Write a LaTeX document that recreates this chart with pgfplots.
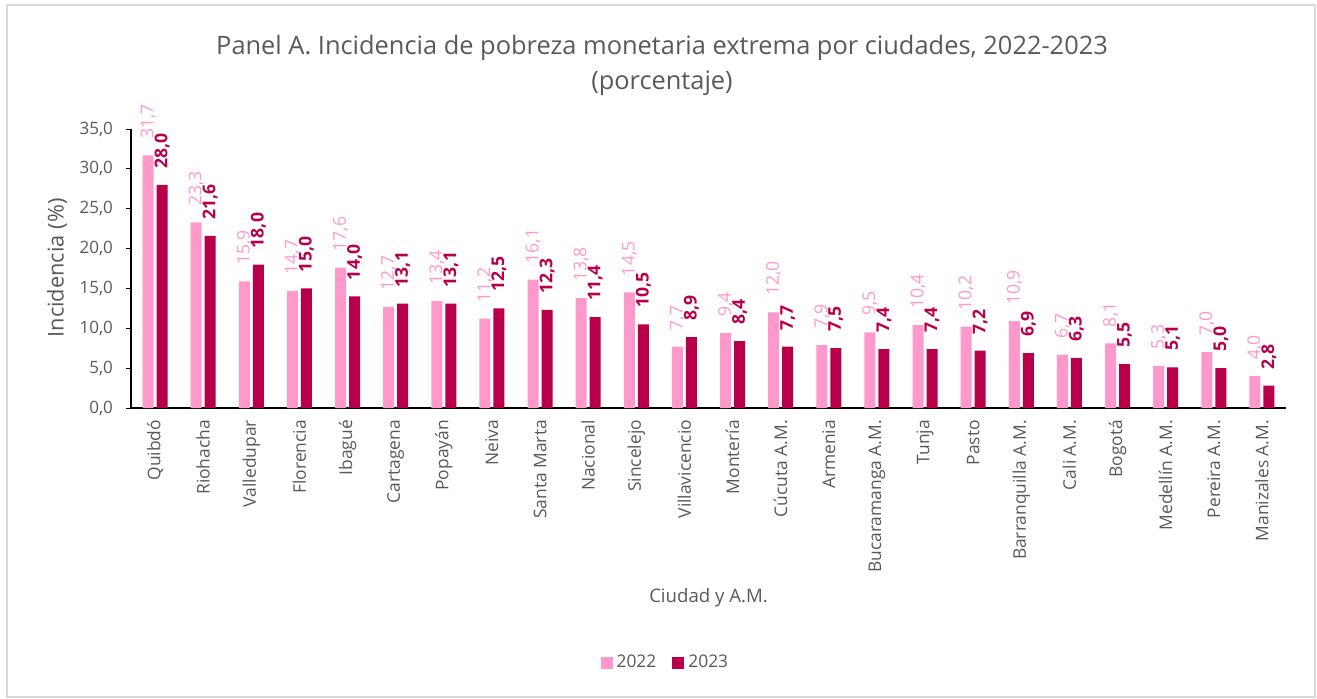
\documentclass[border=0pt]{standalone}
\usepackage{pgfplots}
\pgfplotsset{compat=1.18}
\usepackage{fontspec}
\setmainfont{Open Sans}
\definecolor{c22}{HTML}{FF99CC}
\definecolor{c23}{HTML}{B8004A}
\definecolor{txt}{HTML}{595959}
\definecolor{frame}{HTML}{D9D9D9}
\pgfkeys{/pgf/number format/.cd, use comma, assume math mode=true}
\begin{document}
\begin{tikzpicture}
\useasboundingbox (0,0) rectangle (658.5pt,349pt);
\draw[frame, line width=1pt] (3.5pt,0.5pt) rectangle (657.5pt,346.5pt);
\node[text=txt, font=\fontsize{12.7}{17.5}\selectfont, align=center] at (331pt,316.5pt) {Panel A. Incidencia de pobreza monetaria extrema por ciudades, 2022-2023\\(porcentaje)};
\begin{axis}[
  at={(65.5pt,145pt)}, anchor=south west,
  scale only axis, width=577.5pt, height=139.5pt,
  xmin=-0.5, xmax=23.5, ymin=0, ymax=35,
  ybar=1.5pt, bar width=5.5pt,
  axis x line*=bottom, axis y line*=left,
  axis line style={black, line width=0.75pt, -},
  ytick={0,5,...,35},
  /pgf/number format/fixed, /pgf/number format/fixed zerofill, /pgf/number format/precision=1, /pgf/number format/use comma, /pgf/number format/assume math mode=true,
  yticklabel style={font=\fontsize{8.5}{10}\selectfont, text=txt, xshift=-3pt},
  y tick style={black, line width=0.5pt}, tick align=outside, major tick length=2.5pt,
  xtick={0,...,23}, x tick style={draw=none},
  xticklabels={Quibdó,Riohacha,Valledupar,Florencia,Ibagué,Cartagena,Popayán,Neiva,Santa Marta,Nacional,Sincelejo,Villavicencio,Montería,Cúcuta A.M.,Armenia,Bucaramanga A.M.,Tunja,Pasto,Barranquilla A.M.,Cali A.M.,Bogotá,Medellín A.M.,Pereira A.M.,Manizales A.M.},
  xticklabel style={rotate=90, anchor=east, font=\fontsize{8.7}{10}\selectfont, text=txt},
  ylabel={Incidencia (\%)},
  ylabel style={at={(axis description cs:-0.064,0.502)}, anchor=center, font=\fontsize{10.9}{12}\selectfont, text=txt},
  xlabel={Ciudad y A.M.},
  xlabel style={at={(axis description cs:0.5,-0.681)}, anchor=center, font=\fontsize{9.3}{11}\selectfont, text=txt},
  legend style={at={(axis description cs:0.4635,-0.914)}, anchor=center, draw=none, legend columns=2, font=\fontsize{8.7}{10}\selectfont, text=txt, /tikz/every even column/.append style={column sep=6pt}},
  legend image code/.code={\fill[#1] (0pt,-3pt) rectangle (6pt,3pt);},
  clip=false,
]
\addplot[fill=c22, draw=none, nodes near coords={\pgfmathprintnumber[fixed,fixed zerofill,precision=1,use comma,assume math mode=true]{\pgfplotspointmeta}},
  every node near coord/.append style={text=c22, rotate=90, anchor=west, inner xsep=8pt, inner ysep=0pt, font=\fontsize{8.8}{10}\selectfont}]
 coordinates {(0,31.7) (1,23.3) (2,15.9) (3,14.7) (4,17.6) (5,12.7) (6,13.4) (7,11.2) (8,16.1) (9,13.8) (10,14.5) (11,7.7) (12,9.4) (13,12.0) (14,7.9) (15,9.5) (16,10.4) (17,10.2) (18,10.9) (19,6.7) (20,8.1) (21,5.3) (22,7.0) (23,4.0)};
\addplot[fill=c23, draw=none, nodes near coords={\pgfmathprintnumber[fixed,fixed zerofill,precision=1,use comma,assume math mode=true]{\pgfplotspointmeta}},
  every node near coord/.append style={text=c23, rotate=90, anchor=west, inner xsep=8pt, inner ysep=0pt, font=\bfseries\fontsize{8.8}{10}\selectfont}]
 coordinates {(0,28.0) (1,21.6) (2,18.0) (3,15.0) (4,14.0) (5,13.1) (6,13.1) (7,12.5) (8,12.3) (9,11.4) (10,10.5) (11,8.9) (12,8.4) (13,7.7) (14,7.5) (15,7.4) (16,7.4) (17,7.2) (18,6.9) (19,6.3) (20,5.5) (21,5.1) (22,5.0) (23,2.8)};
\legend{2022,2023}
\end{axis}
\end{tikzpicture}
\end{document}
